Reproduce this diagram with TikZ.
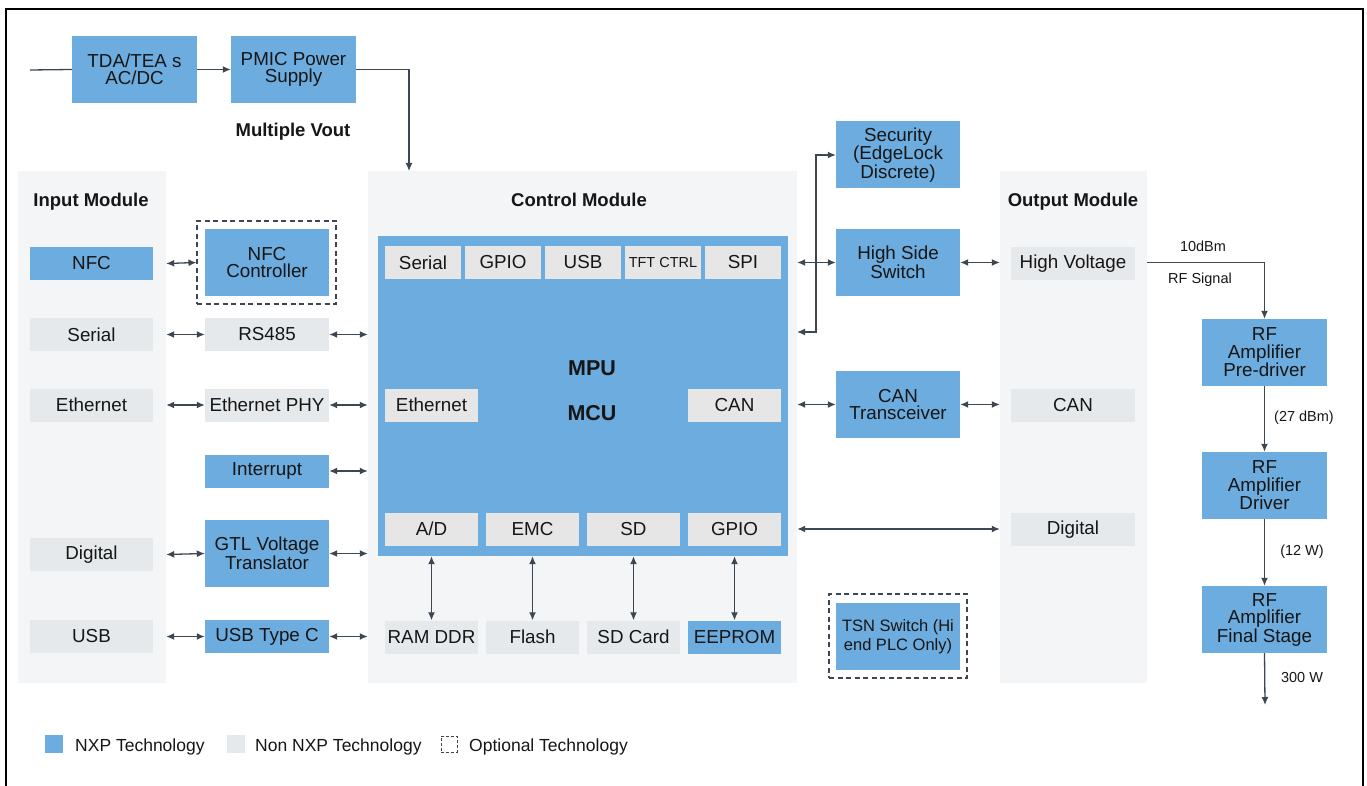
\documentclass[tikz,border=0pt]{standalone}
\usepackage{fontspec}
\setmainfont{Liberation Sans}
\usetikzlibrary{arrows.meta}

\definecolor{nxpblue}{HTML}{6DACDE}
\definecolor{nongray}{HTML}{E6E9EB}
\definecolor{perigray}{HTML}{E6E6E6}
\definecolor{modbg}{HTML}{F4F5F7}
\definecolor{linegray}{HTML}{3D4752}
\definecolor{ink}{HTML}{161616}

\tikzset{
  box/.style={inner sep=0pt, align=center, text=ink, minimum width=124pt, minimum height=33pt,
    font=\fontsize{18.8}{17.5}\selectfont},
  nxp/.style={box, fill=nxpblue},
  nonnxp/.style={box, fill=nongray},
  periph/.style={box, fill=perigray, minimum width=76pt},
  tall/.style={minimum height=67pt},
  module/.style={fill=modbg, inner sep=0pt},
  modtitle/.style={font=\fontsize{18.5}{20}\selectfont\bfseries, text=ink, anchor=base},
  chip/.style={font=\fontsize{21.5}{24}\selectfont\bfseries, text=ink},
  optional/.style={draw=linegray, dash pattern=on 5pt off 3.5pt, line width=1.1pt, inner sep=0pt},
  wire/.style={draw=linegray, line width=1.3pt},
  tip/.style={wire, -{Latex[length=8pt,width=7pt]}},
  link/.style={wire, {Latex[length=8pt,width=7pt]}-{Latex[length=8pt,width=7pt]}},
  note/.style={font=\fontsize{14.5}{16}\selectfont, text=ink},
  legend/.style={font=\fontsize{17.5}{19}\selectfont, text=ink, inner sep=0pt},
}

\begin{document}
\begin{tikzpicture}[x=1pt, y=-1pt]
  \useasboundingbox (0,0) rectangle (1367,786);
  \draw[line width=2pt] (6,786) -- (6,9) -- (1363,9) -- (1363,786);

  % modules
  \node[module, minimum width=148pt, minimum height=512pt] (inmod) at (92,427) {};
  \node[module, minimum width=429pt, minimum height=512pt] (ctrl) at (582.5,427) {};
  \node[module, minimum width=147pt, minimum height=512pt] (outmod) at (1073.5,427) {};
  \node[modtitle] (intitle) at (91,207) {Input Module};
  \node[modtitle] (ctrltitle) at (579,207) {Control Module};
  \node[modtitle] (outtitle) at (1073,207) {Output Module};

  % power
  \node[nxp, minimum width=125pt, tall] (tda) at (134.5,69.5) {TDA/TEA s\\AC/DC};
  \node[nxp, minimum width=125pt, tall] (pmic) at (293.5,69.5) {PMIC Power\\Supply};
  \node[modtitle] (vout) at (293,137) {Multiple Vout};
  \coordinate (mains) at (30,70);
  \coordinate (vin) at (409,171);

  % control
  \node[fill=nxpblue, minimum width=410pt, minimum height=320pt, inner sep=0pt] (mcu) at (583,396) {};
  \node[chip] (mputext) at (592,368) {MPU};
  \node[chip] (mcutext) at (592,413) {MCU};
  \node[periph] (serialc) at (423,262.5) {Serial};
  \node[periph] (gpioa) at (503,262.5) {GPIO};
  \node[periph] (usbc) at (583,262.5) {USB};
  \node[periph, font=\fontsize{14.5}{16}\selectfont] (tft) at (663,262.5) {TFT CTRL};
  \node[periph] (spi) at (743,262.5) {SPI};
  \node[periph, minimum width=93pt] (ethc) at (431.5,405) {Ethernet};
  \node[periph, minimum width=93pt] (canc) at (734.5,405) {CAN};
  \node[periph, minimum width=93pt] (ad) at (431.5,529) {A/D};
  \node[periph, minimum width=93pt] (emc) at (532.5,529) {EMC};
  \node[periph, minimum width=93pt] (sd) at (633.5,529) {SD};
  \node[periph, minimum width=93pt] (gpiob) at (734.5,529) {GPIO};
  \node[nonnxp, minimum width=93pt] (ram) at (431.5,637) {RAM DDR};
  \node[nonnxp, minimum width=93pt] (flash) at (532.5,637) {Flash};
  \node[nonnxp, minimum width=93pt] (sdcard) at (633.5,637) {SD Card};
  \node[nxp, minimum width=93pt] (eeprom) at (734.5,637) {EEPROM};

  % input side
  \node[nxp, minimum width=123pt] (nfc) at (91.5,263.5) {NFC};
  \node[nonnxp, minimum width=123pt] (serial) at (91.5,334.5) {Serial};
  \node[nonnxp, minimum width=123pt] (eth) at (91.5,405) {Ethernet};
  \node[nonnxp, minimum width=123pt] (digin) at (91.5,554.5) {Digital};
  \node[nonnxp, minimum width=123pt] (usb) at (91.5,636.5) {USB};
  \node[optional, minimum width=139pt, minimum height=83pt] (nfcopt) at (266.5,262.5) {};
  \node[nxp, tall] (nfcctl) at (267,262.5) {NFC\\Controller};
  \node[nonnxp] (rs485) at (267,334.5) {RS485};
  \node[nonnxp] (ethphy) at (267,405) {Ethernet PHY};
  \node[nxp] (irq) at (267,471) {Interrupt};
  \node[nxp, tall] (gtl) at (267,553.5) {GTL Voltage\\Translator};
  \node[nxp] (usbtc) at (267,636.5) {USB Type C};

  % output side
  \node[nxp, tall] (sec) at (898,155) {Security\\(EdgeLock\\Discrete)};
  \node[nxp, tall] (hss) at (898,262.5) {High Side\\Switch};
  \node[nxp, tall] (cantr) at (898,404.5) {CAN\\Transceiver};
  \node[optional, minimum width=138pt, minimum height=84pt] (tsnopt) at (898,636) {};
  \node[nxp, tall, font=\fontsize{16.5}{19}\selectfont] (tsn) at (898,636.5) {TSN Switch (Hi\\end PLC Only)};
  \node[nonnxp] (hv) at (1073,263.5) {High Voltage};
  \node[nonnxp] (canout) at (1073,405) {CAN};
  \node[nonnxp] (digout) at (1073,529.5) {Digital};

  % rf chain
  \node[nxp, tall, minimum width=125pt] (pre) at (1264.5,352.5) {RF\\Amplifier\\Pre-driver};
  \node[nxp, tall, minimum width=125pt] (drv) at (1264.5,485.5) {RF\\Amplifier\\Driver};
  \node[nxp, tall, minimum width=125pt] (fin) at (1264.5,619.5) {RF\\Amplifier\\Final Stage};
  \coordinate (rfout) at (1265,705);
  \node[note] (dbm) at (1203,246) {10dBm};
  \node[note] (rfsig) at (1200,280) {RF Signal};
  \node[note] (pdbm) at (1304,418) {(27 dBm)};
  \node[note] (pw) at (1302,552) {(12 W)};
  \node[note] (outw) at (1302,678) {300 W};

  % connectors
  \draw[wire] (mains) -- (tda.west);
  \draw[tip] (tda.east) -- (pmic.west);
  \draw[tip] (pmic.east) -| (vin);
  \draw[link] (inmod.east |- nfc) -- (nfcopt.west);
  \draw[link] (inmod.east |- serial) -- (rs485.west);
  \draw[link] (inmod.east |- eth) -- (ethphy.west);
  \draw[link] (inmod.east |- digin) -- (gtl.west);
  \draw[link] (inmod.east |- usb) -- (usbtc.west);
  \draw[link] (rs485.east) -- (ctrl.west |- rs485);
  \draw[link] (ethphy.east) -- (ctrl.west |- ethphy);
  \draw[link] (irq.east) -- (ctrl.west |- irq);
  \draw[link] (gtl.east) -- (ctrl.west |- gtl);
  \draw[link] (usbtc.east) -- (ctrl.west |- usbtc);
  \draw[link] (mcu.south -| ad) -- (ram.north);
  \draw[link] (mcu.south -| emc) -- (flash.north);
  \draw[link] (mcu.south -| sd) -- (sdcard.north);
  \draw[link] (mcu.south -| gpiob) -- (eeprom.north);
  \coordinate (sectap) at (797,332);
  \draw[link] (sectap) -- ++(19,0) |- (sec.west);
  \draw[link] (ctrl.east |- hss) -- (hss.west);
  \draw[link] (hss.east) -- (outmod.west |- hss);
  \draw[link] (ctrl.east |- cantr) -- (cantr.west);
  \draw[link] (cantr.east) -- (outmod.west |- cantr);
  \draw[link] (ctrl.east |- gpiob) -- (outmod.west |- gpiob);
  \draw[tip] (outmod.east |- hss) -| (pre.north);
  \draw[tip] (pre.south) -- (drv.north);
  \draw[tip] (drv.south) -- (fin.north);
  \draw[tip] (fin.south) -- (rfout);

  % legend
  \node[fill=nxpblue, minimum size=18pt, inner sep=0pt] (lgnxp) at (54,744) {};
  \node[legend, anchor=base west] (lgnxptext) at (75,751) {NXP Technology};
  \node[fill=nongray, minimum size=18pt, inner sep=0pt] (lgnon) at (236,744) {};
  \node[legend, anchor=base west] (lgnontext) at (255,751) {Non NXP Technology};
  \node[optional, line width=0.9pt, dash pattern=on 3pt off 2pt, minimum size=16pt] (lgopt) at (449,744) {};
  \node[legend, anchor=base west] (lgopttext) at (469,751) {Optional Technology};
\end{tikzpicture}
\end{document}
